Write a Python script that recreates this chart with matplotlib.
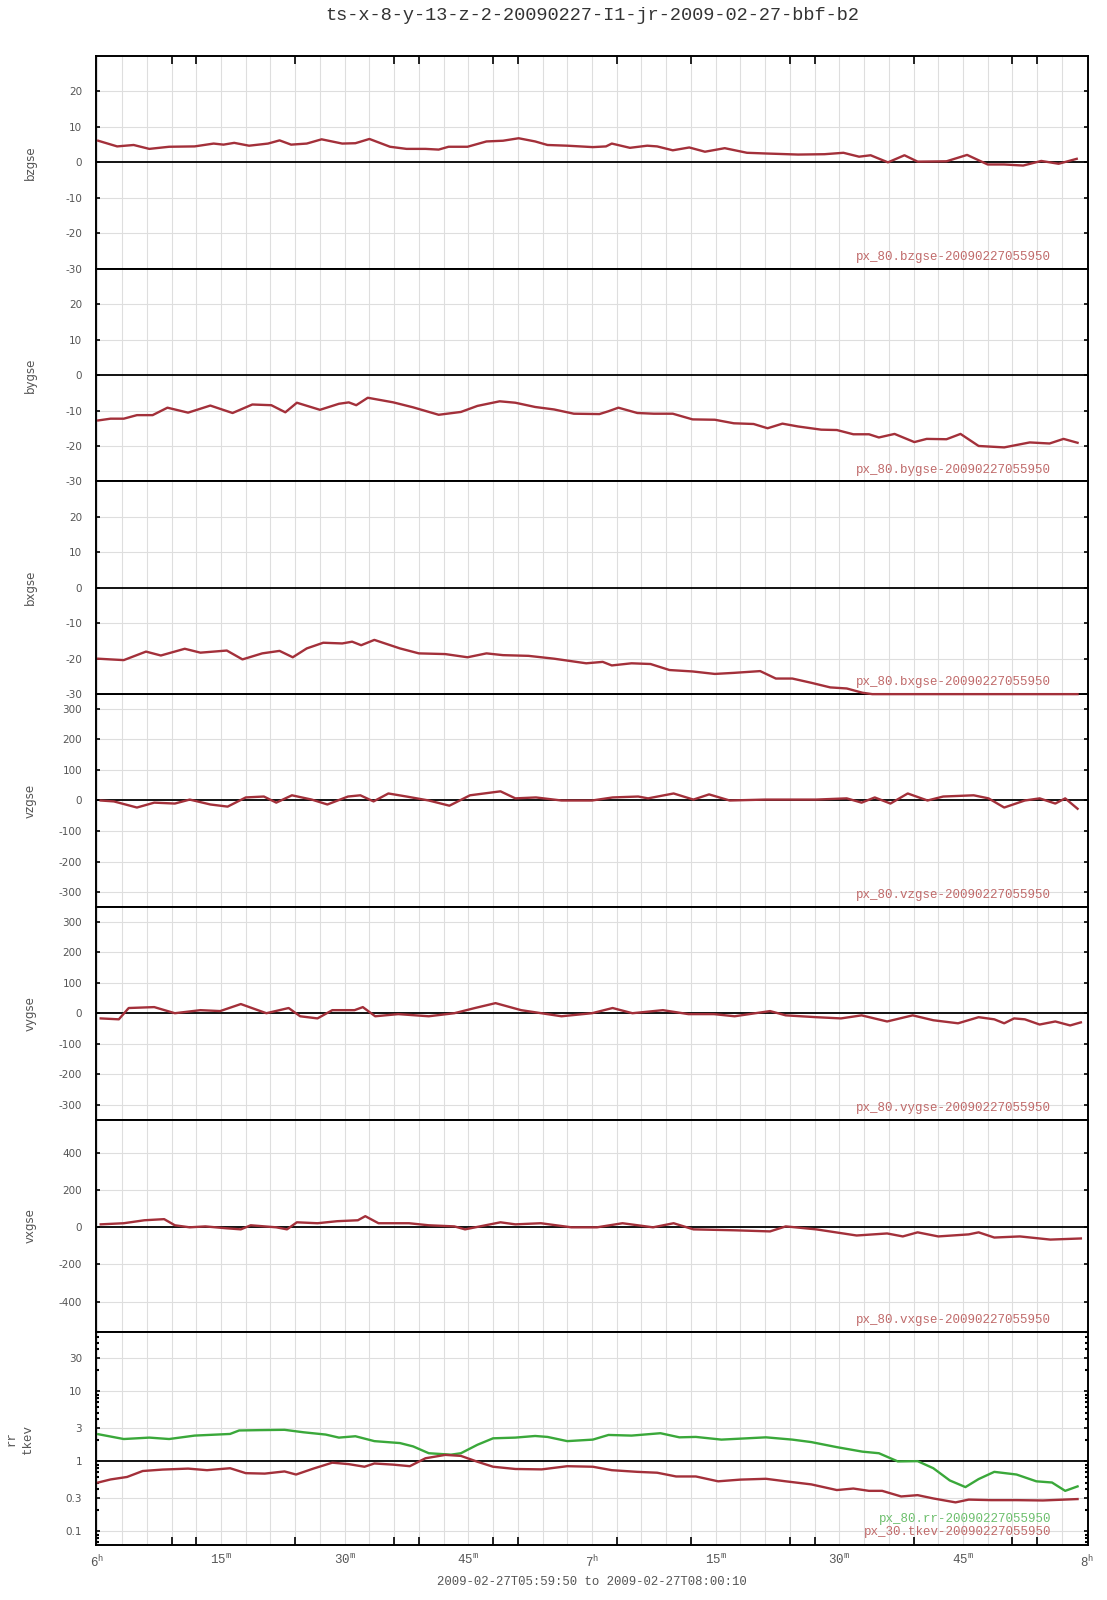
import numpy as np
import matplotlib.pyplot as plt
from matplotlib.ticker import LogLocator, NullFormatter, FixedLocator

plt.rcParams['mathtext.fontset'] = 'custom'
plt.rcParams['mathtext.rm'] = 'Liberation Mono'
plt.rcParams['mathtext.it'] = 'Liberation Mono'

MONO = 'Liberation Mono'

# time axis in minutes after 06:00
bz_t = [0.1, 2.4, 4.4, 6.3, 8.7, 11.8, 14.1, 15.3, 16.6, 18.4, 20.7, 22.1, 23.5, 25.4, 27.2, 29.7, 31.3,
        33.0, 35.5, 37.5, 39.8, 41.4, 42.6, 44.9, 47.2, 49.2, 51.1, 53.1, 54.6, 57.0, 60.1, 61.7, 62.4,
        64.6, 66.7, 67.9, 69.8, 71.8, 73.7, 76.1, 78.8, 81.1, 85.0, 88.2, 90.5, 92.4, 93.8, 95.9, 97.9,
        99.5, 103.0, 105.5, 108.0, 110.0, 112.3, 114.5, 116.6, 118.8]
bz_v = [6.1, 4.5, 4.9, 3.8, 4.4, 4.5, 5.3, 5.0, 5.5, 4.7, 5.3, 6.2, 5.0, 5.3, 6.5, 5.3, 5.4, 6.6, 4.4, 3.8,
        3.8, 3.6, 4.4, 4.4, 5.9, 6.1, 6.8, 5.9, 4.9, 4.7, 4.3, 4.5, 5.3, 4.1, 4.7, 4.5, 3.4, 4.2, 3.0, 4.0,
        2.7, 2.5, 2.2, 2.3, 2.7, 1.6, 2.0, 0.0, 2.0, 0.2, 0.3, 2.1, -0.6, -0.6, -0.9, 0.4, -0.4, 1.0]

by_t = [0.1, 1.6, 3.2, 4.8, 6.7, 8.5, 11.0, 13.7, 16.4, 18.8, 21.1, 22.8, 24.2, 27.0, 29.3, 30.5, 31.4,
        32.8, 35.9, 38.3, 41.4, 44.1, 46.1, 48.8, 50.7, 53.1, 55.4, 57.8, 60.9, 62.0, 63.2, 65.5, 67.5,
        69.8, 72.2, 74.9, 77.2, 79.6, 81.3, 83.1, 85.0, 87.8, 89.7, 91.7, 93.6, 94.8, 96.7, 99.1, 100.6,
        103.0, 104.7, 106.9, 110.0, 113.1, 115.5, 117.2, 118.9]
by_v = [-12.8, -12.3, -12.3, -11.3, -11.3, -9.2, -10.6, -8.6, -10.7, -8.3, -8.5, -10.5, -7.8, -9.8, -8.1,
        -7.7, -8.5, -6.4, -7.7, -9.1, -11.2, -10.4, -8.7, -7.4, -7.8, -9.0, -9.7, -10.9, -11.0, -10.2,
        -9.2, -10.7, -10.9, -10.9, -12.5, -12.6, -13.6, -13.8, -15.0, -13.7, -14.5, -15.4, -15.5, -16.7,
        -16.7, -17.6, -16.6, -18.9, -18.0, -18.1, -16.6, -20.0, -20.4, -19.0, -19.3, -18.0, -19.1]

bx_t = [0.1, 1.6, 3.2, 5.9, 7.7, 10.6, 12.5, 15.7, 17.6, 20.0, 22.1, 23.7, 25.4, 27.4, 29.7, 30.9, 32.0,
        33.6, 36.7, 39.0, 42.2, 44.9, 47.2, 49.2, 52.3, 55.4, 59.3, 61.3, 62.4, 64.8, 67.1, 69.4, 72.2,
        74.9, 77.2, 80.4, 82.3, 84.3, 86.6, 88.9, 90.9, 92.8, 94.0, 118.9]
bx_v = [-20.0, -20.2, -20.4, -18.0, -19.1, -17.2, -18.3, -17.7, -20.2, -18.5, -17.8, -19.6, -17.1, -15.5,
        -15.7, -15.2, -16.2, -14.7, -17.1, -18.5, -18.7, -19.6, -18.5, -19.0, -19.2, -20.0, -21.3, -20.9,
        -21.9, -21.3, -21.5, -23.2, -23.6, -24.3, -24.0, -23.5, -25.6, -25.6, -26.8, -28.1, -28.4, -29.6,
        -30.0, -30.0]

vz_t = [0.4, 2.0, 4.8, 6.9, 9.4, 11.2, 13.7, 15.8, 18.0, 20.2, 21.7, 23.6, 26.0, 27.9, 30.4, 31.9, 33.5,
        35.3, 37.5, 40.2, 42.7, 45.2, 48.9, 50.7, 53.2, 56.3, 60.0, 62.5, 65.6, 66.8, 69.9, 72.3, 74.2,
        76.7, 81.0, 87.2, 90.9, 92.7, 94.3, 96.2, 98.3, 100.7, 102.6, 106.3, 108.1, 110.0, 112.5, 114.3,
        116.2, 117.4, 118.9]
vz_v = [0, -3, -23, -7, -10, 3, -13, -20, 10, 13, -7, 17, 3, -13, 13, 17, -3, 23, 13, 0, -17, 17, 30, 7,
        10, 0, 0, 10, 13, 7, 23, 3, 20, 0, 3, 3, 7, -7, 10, -10, 23, 0, 13, 17, 7, -23, 0, 7, -10, 7, -27]

vy_t = [0.4, 2.6, 3.8, 6.9, 9.4, 12.5, 14.9, 17.4, 20.5, 23.2, 24.6, 26.7, 28.5, 31.2, 32.2, 33.7, 36.5,
        40.2, 43.3, 45.8, 48.3, 51.4, 56.3, 60.0, 62.5, 64.9, 68.6, 71.7, 74.8, 77.3, 81.6, 83.5, 87.2,
        90.2, 92.7, 95.8, 98.9, 101.4, 104.4, 106.9, 108.8, 110.0, 111.2, 112.5, 114.3, 116.2, 118.0, 119.3]
vy_v = [-17, -20, 17, 20, 0, 10, 7, 30, 0, 17, -10, -17, 10, 10, 20, -10, -3, -10, 0, 17, 33, 10, -10, 0,
        17, 0, 10, -3, -3, -10, 7, -7, -13, -17, -7, -27, -7, -23, -33, -13, -20, -33, -17, -20, -37, -27,
        -40, -30]

vx_t = [0.4, 3.2, 5.7, 8.1, 9.4, 11.2, 13.1, 15.6, 17.4, 18.6, 21.7, 23.0, 24.2, 26.7, 29.1, 31.6, 32.5,
        34.1, 37.8, 40.2, 43.3, 44.6, 46.4, 48.9, 50.7, 53.8, 57.5, 60.6, 63.7, 67.4, 69.9, 72.3, 77.3,
        81.6, 83.5, 87.2, 92.1, 95.8, 97.7, 99.5, 102.0, 105.7, 106.9, 108.8, 111.9, 115.6, 119.3]
vx_v = [16, 22, 38, 44, 11, 0, 5, -5, -11, 11, 0, -11, 27, 22, 33, 38, 60, 22, 22, 11, 5, -11, 5, 27, 16,
        22, 0, 0, 22, 0, 22, -11, -16, -22, 5, -11, -44, -33, -49, -27, -49, -38, -27, -55, -49, -66, -60]

rr_t = [0.1, 3.2, 6.3, 8.7, 11.8, 16.1, 17.2, 19.6, 22.7, 25.0, 27.7, 29.3, 31.3, 33.6, 36.7, 38.3, 40.2,
        42.9, 44.1, 46.1, 48.0, 50.7, 53.1, 54.6, 57.0, 60.1, 62.0, 64.8, 68.3, 70.6, 72.6, 75.7, 78.8,
        81.1, 84.3, 86.6, 89.7, 92.8, 94.8, 97.1, 99.5, 101.4, 103.4, 105.3, 106.9, 108.8, 111.5, 113.9,
        115.8, 117.4, 118.9]
rr_v = [2.45, 2.09, 2.19, 2.09, 2.34, 2.47, 2.77, 2.80, 2.83, 2.61, 2.42, 2.19, 2.29, 1.95, 1.83, 1.64,
        1.31, 1.25, 1.31, 1.73, 2.14, 2.19, 2.31, 2.24, 1.95, 2.05, 2.39, 2.34, 2.53, 2.21, 2.24, 2.05,
        2.14, 2.21, 2.05, 1.89, 1.60, 1.38, 1.31, 1.0, 1.01, 0.80, 0.535, 0.43, 0.56, 0.71, 0.65, 0.52,
        0.50, 0.38, 0.44]

tkev_t = [0.1, 1.6, 3.6, 5.5, 7.9, 11.0, 13.3, 16.1, 18.0, 20.3, 22.7, 24.1, 26.2, 28.5, 30.5, 32.4, 33.6,
          35.9, 37.9, 39.8, 42.2, 44.1, 46.1, 48.0, 50.7, 53.9, 57.0, 60.1, 62.4, 65.5, 67.9, 70.2, 72.6,
          75.3, 78.0, 81.1, 83.5, 86.6, 89.7, 91.7, 93.6, 95.2, 97.5, 99.5, 101.4, 104.1, 105.7, 108.4,
          111.5, 114.7, 118.9]
tkev_v = [0.50, 0.553, 0.60, 0.73, 0.765, 0.79, 0.75, 0.80, 0.68, 0.67, 0.72, 0.65, 0.79, 0.96, 0.915,
          0.84, 0.935, 0.90, 0.855, 1.11, 1.24, 1.20, 0.99, 0.84, 0.78, 0.77, 0.855, 0.84, 0.75, 0.71, 0.69,
          0.61, 0.61, 0.52, 0.55, 0.565, 0.52, 0.47, 0.39, 0.41, 0.38, 0.38, 0.316, 0.33, 0.296, 0.26,
          0.285, 0.28, 0.28, 0.277, 0.29]

names = ['bzgse', 'bygse', 'bxgse', 'vzgse', 'vygse', 'vxgse']
series = [(bz_t, bz_v), (by_t, by_v), (bx_t, bx_v), (vz_t, vz_v), (vy_t, vy_v), (vx_t, vx_v)]
ylims = [(-30, 30), (-30, 30), (-30, 30), (-348, 348), (-348, 348), (-565, 580)]
yticks = [[-30, -20, -10, 0, 10, 20]] * 3 + [[-300, -200, -100, 0, 100, 200, 300]] * 2 + [[-400, -200, 0, 200, 400]]
log_ticks = [0.1, 0.3, 1, 3, 10, 30]
log_labels = ['0.1', '0.3', '1', '3', '10', '30']

x_labels = ['6', '15', '30', '45', '7', '15', '30', '45', '8']
x_units = ['h', 'm', 'm', 'm', 'h', 'm', 'm', 'm', 'h']
tick_marks = [9, 12, 24, 36, 39, 48, 51, 60, 63, 72, 75, 84, 87, 99, 111, 114]

RED = '#a3303a'
GREEN = '#3aa83a'
GRID = '#dedede'
TXT = '#555555'

fig, axes = plt.subplots(7, 1, sharex=True, figsize=(11.07, 16), dpi=100)
fig.subplots_adjust(left=96/1107, right=1088/1107, top=1-56/1600, bottom=1-1545/1600, hspace=0)

grid_x = np.arange(0, 121, 3)
for i, ax in enumerate(axes):
    ax.set_xlim(-1/6, 120 + 1/6)
    for gx in grid_x:
        ax.axvline(gx, color=GRID, lw=0.8, zorder=0)
    ax.set_xticks(np.arange(0, 121, 15))
    ax.set_xticks(tick_marks, minor=True)
    ax.tick_params(axis='x', which='major', length=0, labelbottom=False)
    ax.tick_params(axis='x', which='minor', length=0)
    for s in ax.spines.values():
        s.set_linewidth(1.4)
        s.set_color('black')

for i, ax in enumerate(axes[:6]):
    t, v = series[i]
    ax.set_ylim(*ylims[i])
    ax.set_yticks(yticks[i])
    ax.set_yticklabels([str(y) for y in yticks[i]])
    for y in yticks[i]:
        if y != 0:
            ax.axhline(y, color=GRID, lw=0.8, zorder=0)
    ax.axhline(0, color='black', lw=1.3, zorder=1)
    ax.plot(t, v, color=RED, lw=1.7, zorder=3, clip_on=False)
    ax.tick_params(axis='y', direction='in', length=3, width=1.2, left=True, right=True,
                   labelsize=7.5, labelcolor=TXT, pad=10)
    ax.text(0.963, 0.056, 'px_80.%s-20090227055950' % names[i], transform=ax.transAxes,
            ha='right', va='center', family=MONO, fontsize=9, color='#c06a6a')
    y0 = ax.get_position().y0
    y1 = ax.get_position().y1
    fig.text(30/1107, (y0 + y1) / 2, names[i], rotation=90, ha='center', va='center',
             fontsize=8.5, color=TXT)

# bxgse runs along its lower edge: keep that panel on top so the line shows
axes[2].set_zorder(5)

ax = axes[6]
ax.set_yscale('log')
ax.set_ylim(0.064, 70)
ax.yaxis.set_major_locator(FixedLocator(log_ticks))
ax.set_yticklabels(log_labels)
ax.yaxis.set_minor_locator(LogLocator(base=10, subs=(2, 4, 5, 6, 7, 8, 9), numticks=20))
ax.yaxis.set_minor_formatter(NullFormatter())
for y in log_ticks:
    if y != 1:
        ax.axhline(y, color=GRID, lw=0.8, zorder=0)
ax.axhline(1, color='black', lw=1.3, zorder=1)
ax.plot(rr_t, rr_v, color=GREEN, lw=1.7, zorder=3)
ax.plot(tkev_t, tkev_v, color=RED, lw=1.7, zorder=3)
ax.tick_params(axis='y', which='major', direction='in', length=3, width=1.2, left=True, right=True,
               labelsize=7.5, labelcolor=TXT, pad=10)
ax.tick_params(axis='y', which='minor', direction='in', length=2, width=1.5, left=True, right=True)
ax.text(0.963, 0.122, 'px_80.rr-20090227055950', transform=ax.transAxes,
        ha='right', va='center', family=MONO, fontsize=9, color='#6cbf6c')
ax.text(0.963, 0.061, 'px_30.tkev-20090227055950', transform=ax.transAxes,
        ha='right', va='center', family=MONO, fontsize=9, color='#c06a6a')
y0 = ax.get_position().y0
y1 = ax.get_position().y1
fig.text(12/1107, (y0 + y1) / 2, 'rr', rotation=90, ha='center', va='center',
         family=MONO, fontsize=9, color=TXT)
fig.text(28/1107, (y0 + y1) / 2, 'tkev', rotation=90, ha='center', va='center',
         family=MONO, fontsize=9, color=TXT)

# x tick marks on the outer edges
axes[0].tick_params(axis='x', which='minor', top=True, bottom=False, direction='in', length=6, width=1.2)
axes[6].tick_params(axis='x', which='minor', bottom=True, direction='in', length=6, width=1.2)
axes[6].tick_params(axis='x', which='major', labelbottom=True, pad=6)
axes[6].set_xticklabels([r'$%s^{%s}$' % (a, b) for a, b in zip(x_labels, x_units)],
                        fontsize=9, color=TXT)

fig.text(592/1107, 1 - 15/1600, 'ts-x-8-y-13-z-2-20090227-I1-jr-2009-02-27-bbf-b2',
         ha='center', va='center', family=MONO, fontsize=13.4, color='#333333')
fig.text(592/1107, 1 - 1582/1600, '2009-02-27T05:59:50 to 2009-02-27T08:00:10',
         ha='center', va='center', family=MONO, fontsize=8.9, color=TXT)

fig.savefig('out.png', dpi=100)
